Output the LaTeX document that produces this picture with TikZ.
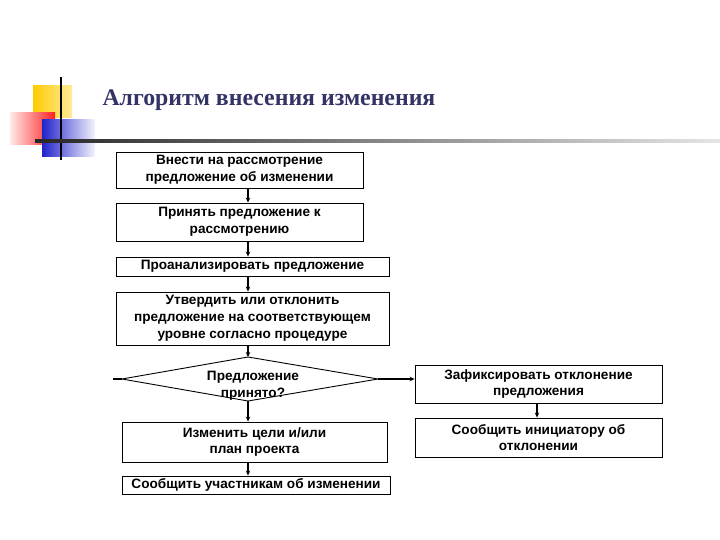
\documentclass[tikz,border=0pt]{standalone}
\usepackage{fontspec}
\setmainfont{Liberation Sans}
\newfontfamily\titlefont{Liberation Serif}
\usetikzlibrary{arrows.meta,calc}
\definecolor{navy}{HTML}{333366}
\definecolor{decoyellow}{HTML}{FFCC00}
\definecolor{decored}{HTML}{FF2020}
\definecolor{decoblue}{HTML}{2222CC}
\tikzset{
  boxfont/.style={font=\bfseries\fontsize{13.6}{16.8}\selectfont},
  box/.style={draw=black,line width=0.9pt,fill=white,align=center,inner sep=0pt,boxfont},
  arr/.style={line width=1.1pt,-{Stealth[length=5pt,width=4.5pt]}},
  plain/.style={line width=1.1pt}
}
\begin{document}
\begin{tikzpicture}[x=1pt,y=-1pt]
\useasboundingbox (0,0) rectangle (720,540);
% decoration
\shade[left color=decoyellow,right color=decoyellow!40] (33,86) rectangle (72,118);
\shade[left color=decored!10,right color=decored] (10,113) rectangle (55,145);
\shade[left color=decoblue,right color=decoblue!5] (42,120) rectangle (95,157);
\draw[line width=1.6pt] (61,77) -- (61,160);
\shade[left color=black!85,right color=black!10] (35,140) rectangle (720,142.5);
% title
\node[anchor=west,text=navy,font=\titlefont\bfseries\fontsize{23.8}{26}\selectfont] (title) at (99,100) {Алгоритм внесения изменения};
% boxes
\node[box,minimum width=247pt,minimum height=36pt] (b1) at (239.5,170) {Внести на рассмотрение\\предложение об изменении};
\node[box,minimum width=247pt,minimum height=38pt] (b2) at (239.5,222) {Принять предложение к\\рассмотрению};
\node[box,minimum width=273pt,minimum height=19pt] (b3) at (252.5,266.5) {Проанализировать предложение};
\node[box,minimum width=273pt,minimum height=53pt] (b4) at (252.5,318.5) {Утвердить или отклонить\\предложение на соответствующем\\уровне согласно процедуре};
% diamond
\coordinate (dt) at (248,357);
\coordinate (dr) at (378,379);
\coordinate (db) at (248,401);
\coordinate (dl) at (122,379);
\coordinate (lend) at (113,379);
\draw[line width=0.9pt,fill=white] (dt) -- (dr) -- (db) -- (dl) -- cycle;
\node[align=center,boxfont,inner sep=0pt] (dtext) at (253,386) {Предложение\\принято?};
\node[box,minimum width=265pt,minimum height=40pt] (b5) at (254.5,442) {Изменить цели и/или\\план проекта};
\node[box,minimum width=268pt,minimum height=18pt] (b6) at (256,485) {Сообщить участникам об изменении};
\node[box,minimum width=247pt,minimum height=38pt] (r1) at (538.5,384) {Зафиксировать отклонение\\предложения};
\node[box,minimum width=247pt,minimum height=39pt] (r2) at (538.5,437.5) {Сообщить инициатору об\\отклонении};
% connectors
\coordinate (ax) at (248,0);
\coordinate (rx) at (537,0);
\draw[arr] (b1.south -| ax) -- (b2.north -| ax);
\draw[arr] (b2.south -| ax) -- (b3.north -| ax);
\draw[arr] (b3.south -| ax) -- (b4.north -| ax);
\draw[arr] (b4.south -| ax) -- (dt);
\draw[arr] (db) -- (b5.north -| ax);
\draw[arr] (b5.south -| ax) -- (b6.north -| ax);
\draw[arr] (dr) -- (r1.west |- dr);
\draw[plain] (dl) -- (lend);
\draw[arr] (r1.south -| rx) -- (r2.north -| rx);
\end{tikzpicture}
\end{document}
